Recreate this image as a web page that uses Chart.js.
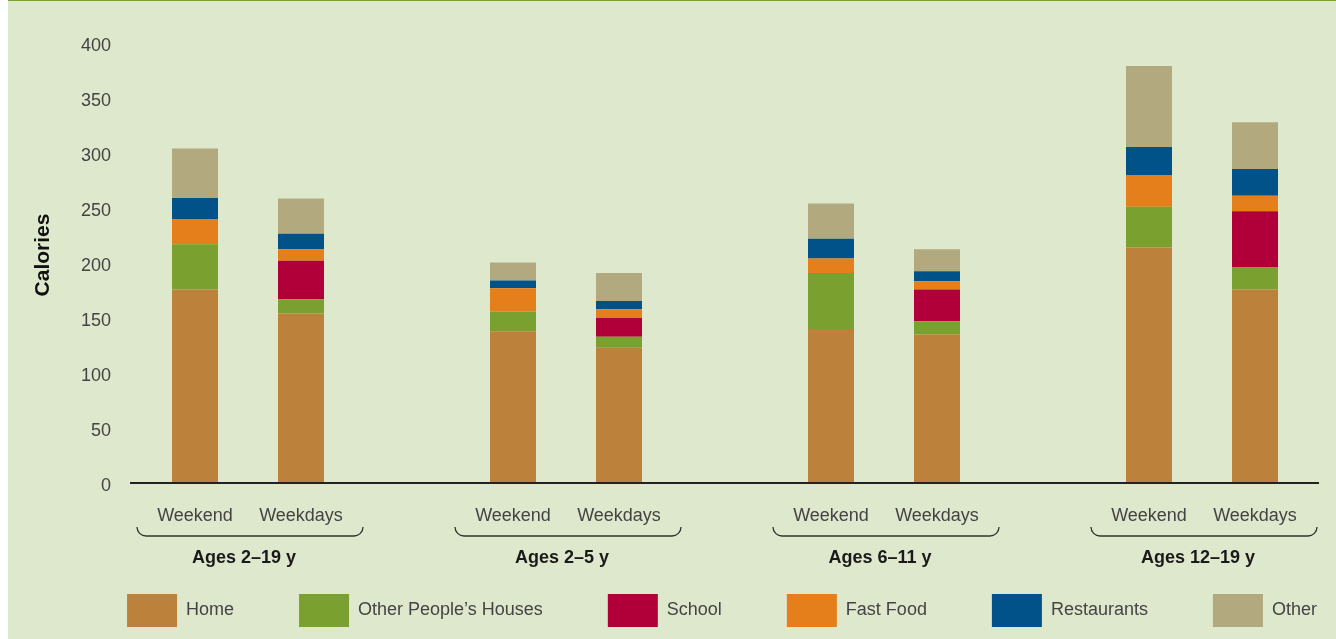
<!DOCTYPE html>
<html>
<head>
<meta charset="utf-8">
<script src="https://cdn.jsdelivr.net/npm/chart.js@4"></script>
<style>
  html, body { margin: 0; padding: 0; background: #ffffff; }
  #bg { position: absolute; left: 8px; top: 0; width: 1328px; height: 639px; background: #dee8cc; border-top: 1px solid #76a22d; box-sizing: border-box; }
  #wrap { position: absolute; left: 0; top: 0; width: 1336px; height: 639px; }
</style>
</head>
<body>
<div id="bg"></div>
<div id="wrap"><canvas id="c" width="1336" height="639"></canvas></div>
<script>
// ---- data ----
const groups = ['Ages 2–19 y', 'Ages 2–5 y', 'Ages 6–11 y', 'Ages 12–19 y'];
const days = ['Weekend', 'Weekdays'];
const seriesNames = ['Home', 'Other People’s Houses', 'School', 'Fast Food', 'Restaurants', 'Other'];
// values per bar, in order: 2–19 weekend, weekdays, 2–5 weekend, weekdays, 6–11 weekend, weekdays, 12–19 weekend, weekdays
const home        = [176, 154, 138, 123, 140, 135, 214, 176];
const otherHouses = [41, 13, 18, 10, 51, 12, 37, 20];
const school      = [0, 35, 0, 17, 0, 29, 0, 51];
const fastFood    = [23, 10.5, 21, 8, 13, 7.5, 29, 14];
const restaurants = [19, 14, 7, 7.5, 18, 9, 25.5, 24.5];
const other       = [45, 32, 16.5, 25.5, 32, 20, 73.5, 42.5];
const yTicks = [0, 50, 100, 150, 200, 250, 300, 350, 400];

const colors = ['#bc823c', '#7aa12f', '#b10039', '#e57f1b', '#005288', '#b2aa7e'];
const seriesValues = [home, otherHouses, school, fastFood, restaurants, other];

// build category labels with a blank spacer between groups
const labels = [];
groups.forEach((g, gi) => {
  days.forEach(d => labels.push(d));
  if (gi < groups.length - 1) labels.push('');
});
function pad(arr) {
  const out = [];
  groups.forEach((g, gi) => {
    out.push(arr[gi * 2], arr[gi * 2 + 1]);
    if (gi < groups.length - 1) out.push(null);
  });
  return out;
}

const datasets = seriesNames.map((name, i) => ({
  label: name,
  data: pad(seriesValues[i]),
  backgroundColor: colors[i],
  borderWidth: 0,
  barPercentage: 0.434,
  categoryPercentage: 1.0
}));

const groupDecor = {
  id: 'groupDecor',
  afterLayout(chart) {
    chart.legend.left += 54;
    chart.legend.right += 54;
  },
  afterDatasetsDraw(chart) {
    const { ctx, scales: { x, y }, chartArea } = chart;
    const y0 = y.getPixelForValue(0);
    ctx.save();
    ctx.strokeStyle = '#222222';
    ctx.lineWidth = 2;
    ctx.beginPath();
    ctx.moveTo(chartArea.left - 12, y0);
    ctx.lineTo(chartArea.right + 11, y0);
    ctx.stroke();

    const b = chartArea.bottom;
    groups.forEach((g, gi) => {
      const i0 = gi * 3, i1 = gi * 3 + 1;
      const cx = (x.getPixelForValue(i0) + x.getPixelForValue(i1)) / 2 + 2;
      const half = 113, top = b + 44, bot = b + 53, r = 9;
      ctx.strokeStyle = '#333333';
      ctx.lineWidth = 1.3;
      ctx.beginPath();
      ctx.moveTo(cx - half, top);
      ctx.arcTo(cx - half, bot, cx - half + r, bot, r);
      ctx.lineTo(cx + half - r, bot);
      ctx.arcTo(cx + half, bot, cx + half, top, r);
      ctx.stroke();
      ctx.fillStyle = '#1a1a1a';
      ctx.font = 'bold 18px "Liberation Sans", Arial, sans-serif';
      ctx.textAlign = 'center';
      ctx.textBaseline = 'middle';
      ctx.fillText(g, cx - 6, b + 75);
    });
    ctx.restore();
  }
};

new Chart(document.getElementById('c'), {
  type: 'bar',
  data: { labels, datasets },
  plugins: [groupDecor],
  options: {
    responsive: false,
    animation: false,
    devicePixelRatio: 1,
    layout: { padding: { left: 0, right: 0, top: 27, bottom: 2 } },
    plugins: {
      tooltip: { enabled: false },
      legend: {
        position: 'bottom',
        align: 'center',
        labels: {
          boxWidth: 50,
          boxHeight: 33,
          padding: 65,
          color: '#444444',
          font: { family: '"Liberation Sans", Arial, sans-serif', size: 18 }
        }
      }
    },
    scales: {
      x: {
        stacked: true,
        grid: { display: false, drawTicks: false },
        border: { display: false },
        ticks: {
          autoSkip: false,
          maxRotation: 0,
          padding: 22,
          color: '#444444',
          font: { family: '"Liberation Sans", Arial, sans-serif', size: 18 }
        },
        afterFit(scale) { scale.height = 46; }
      },
      y: {
        stacked: true,
        min: 0,
        max: 414.5,
        grid: { display: true, drawOnChartArea: false, drawTicks: true, tickLength: 31, color: 'rgba(0,0,0,0)' },
        border: { display: false },
        afterBuildTicks(scale) { scale.ticks = yTicks.map(v => ({ value: v })); },
        afterFit(scale) { scale.width = 142; },
        ticks: {
          stepSize: 50,
          padding: 0,
          labelOffset: 3,
          color: '#444444',
          font: { family: '"Liberation Sans", Arial, sans-serif', size: 18 }
        },
        title: {
          display: true,
          text: 'Calories',
          color: '#111111',
          padding: { top: 31, bottom: 4 },
          font: { family: '"Liberation Sans", Arial, sans-serif', size: 21, weight: 'bold' }
        }
      },
      yRight: {
        position: 'right',
        display: true,
        grid: { display: false, drawTicks: false },
        border: { display: false },
        ticks: { display: false },
        afterFit(scale) { scale.width = 28; }
      }
    }
  }
});
</script>
</body>
</html>
